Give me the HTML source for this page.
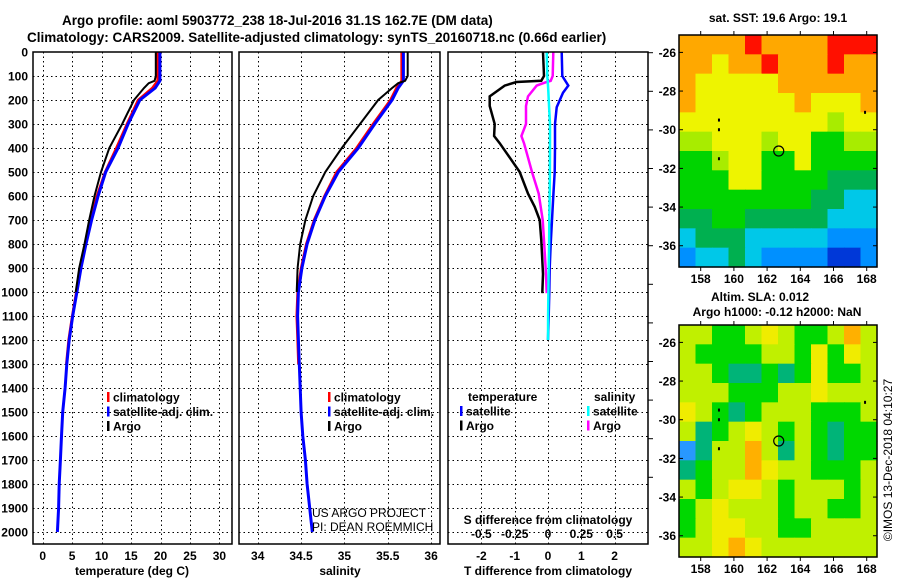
<!DOCTYPE html>
<html><head><meta charset="utf-8"><style>
html,body{margin:0;padding:0;background:#fff;}
svg{display:block;font-family:"Liberation Sans",sans-serif;}
.t{font-weight:bold;font-size:12px;}
.n{font-weight:normal;font-size:12px;}
.h{font-weight:bold;font-size:13.5px;}
</style></head><body>
<svg id="s" width="900" height="580" viewBox="0 0 900 580">
<text class="h" x="62" y="25">Argo profile: aoml 5903772_238 18-Jul-2016 31.1S 162.7E (DM data)</text>
<text class="h" x="27" y="42">Climatology: CARS2009. Satellite-adjusted climatology: synTS_20160718.nc (0.66d earlier)</text>
</svg>
<script>
// ---------- data ----------
const tDepth=[0,120,150,200,300,400,500,600,700,800,900,1000,1100,1200,1300,1400,1500,1600,1700,1800,1900,2000];
const tClim=[19.5,19.5,18.6,16.2,14.3,12.5,10.6,9.2,8.1,7.2,6.4,5.7,5.0,4.4,4.0];
const tSat=[19.9,19.9,19.1,16.5,14.5,12.8,10.7,9.4,8.3,7.35,6.5,5.8,5.1,4.5,4.1,3.8,3.4,3.2,3.0,2.8,2.7,2.5];
const argoDepth=[0,100,120,130,150,200,300,400,500,600,700,800,900,1000];
const tArgo=[19.2,19.2,19.0,18.0,17.2,15.5,13.5,11.3,9.9,8.8,7.9,7.1,6.2,5.6];
const sClim=[35.66,35.66,35.60,35.53,35.33,35.14,34.91,34.77,34.65,34.56,34.50,34.46,34.45,34.46,34.47];
const sSat=[35.68,35.68,35.62,35.55,35.35,35.16,34.93,34.78,34.66,34.57,34.51,34.47,34.46,34.47,34.48,34.49,34.50,34.52,34.55,34.57,34.60,34.63];
const sArgo=[35.73,35.73,35.70,35.62,35.55,35.39,35.18,34.97,34.78,34.64,34.55,34.49,34.46,34.45];
const dDepthArgo=[0,100,120,125,140,185,225,300,350,380,420,500,590,645,700,785,925,1005];
const dTArgo=[-0.15,-0.12,-0.2,-0.95,-1.3,-1.75,-1.75,-1.6,-1.62,-1.45,-1.25,-0.85,-0.6,-0.4,-0.25,-0.2,-0.15,-0.17];
const dSArgo=[0.04,0.035,0.02,-0.01,-0.085,-0.15,-0.165,-0.165,-0.2,-0.18,-0.16,-0.12,-0.07,-0.055,-0.04,-0.03,-0.015,-0.01];
const dDepthSat=[0,100,140,170,230,300,400,500,600,700,800,900,1000,1100,1200];
const dTSat=[0.41,0.43,0.61,0.45,0.26,0.21,0.21,0.2,0.16,0.12,0.08,0.05,0.04,0.02,0.0];
const dSSat=[-0.01,-0.005,0,0.003,0.008,0.015,0.015,0.014,0.013,0.01,0.008,0.005,0.003,0.001,0];
const sstRows=["777787777888","776778777877","766666777777","766666676667","666666666566","556665664455","445664464444","444664444333","444444443322","334433333222","233322222111","122321111001"];
const slaRows=["332234322353","322223324243","332112124223","333222334333","432123332223","312343232122","013353132122","123354332223","323443233323","234333233223","234433223333","334543333333"];
const depthTicks=[0,100,200,300,400,500,600,700,800,900,1000,1100,1200,1300,1400,1500,1600,1700,1800,1900,2000];
const tTicks=[0,5,10,15,20,25,30];
const sTicks=[34,34.5,35,35.5,36];
const sTickLabels=["34","34.5","35","35.5","36"];
const dTTicks=[-2,-1,0,1,2];
const dSTicks=[-0.5,-0.25,0,0.25,0.5];
const dSTickLabels=["-0.5","-0.25","0","0.25","0.5"];
const latTicks=[-26,-28,-30,-32,-34,-36];
const lonTicks=[158,160,162,164,166,168];
const argoPos=[162.7,-31.1];
// ---------- helpers ----------
const S=document.getElementById('s');const NS="http://www.w3.org/2000/svg";
function mk(tag,a,parent){const e=document.createElementNS(NS,tag);for(const k in a)e.setAttribute(k,a[k]);(parent||S).appendChild(e);return e;}
function txt(x,y,s,anchor,cls,name){const e=mk('text',{x:x,y:y,'text-anchor':anchor||'middle',class:cls||'t'});e.textContent=s;

return e;}
const yD=d=>52+d*0.24;
const xT=t=>42.7+t*5.89;
const xS=s=>257.7+(s-34)*86.7;
const xDT=t=>548+t*33.3;
const xDS=s=>548+s*133.2;
const px=v=>Math.round(v)+0.5;
function line(depths,vals,fx,color,w,name){const pts=vals.map((v,i)=>fx(v).toFixed(1)+','+yD(depths[i]).toFixed(1)).join(' ');
const p=mk('polyline',{points:pts,fill:'none',stroke:color,'stroke-width':w||2.5});

}
function frame(x0,x1,y0,y1,name){const r=mk('rect',{x:x0,y:y0,width:x1-x0,height:y1-y0,fill:'none',stroke:'#000','stroke-width':1.5});

}
function grid(x0,x1,xs,fx,name){const g=mk('g',{stroke:'#000','stroke-width':1,'stroke-dasharray':'1.5,3'});


depthTicks.slice(1).forEach(d=>mk('line',{x1:x0,x2:x1,y1:px(yD(d)),y2:px(yD(d))},g));
xs.forEach(v=>mk('line',{x1:px(fx(v)),x2:px(fx(v)),y1:52,y2:544},g));}
function legend(x,y,items,name){items.forEach((it,i)=>{const r=mk('rect',{x:x,y:y+i*14.5-5,width:2.5,height:10,fill:it[0]});


txt(x+6,y+i*14.5+4.5,it[1],'start','t',name+'-entry');});}
// ---------- panel 1 temperature ----------
grid(33,232,tTicks,xT,'temperature-grid');
line(tDepth,tClim,xT,'#ff0000',2.5,'temperature-climatology-line');
line(tDepth,tSat,xT,'#0000ff',3,'temperature-satellite-line');
line(argoDepth,tArgo,xT,'#000',2,'temperature-argo-line');
frame(33,232,52,544,'temperature-panel-frame');
depthTicks.forEach(d=>txt(28,yD(d)+4.5,String(d),'end','t','depth-tick-label'));
tTicks.forEach(t=>txt(xT(t),560,String(t),'middle','t','temperature-tick-label'));
txt(132,575,'temperature (deg C)','middle','t','temperature-axis-title');
legend(107,397,[['#ff0000','climatology'],['#0000ff','satellite-adj. clim.'],['#000','Argo']],'temperature-legend');
// ---------- panel 2 salinity ----------
grid(239,440,sTicks,xS,'salinity-grid');
line(tDepth,sClim,xS,'#ff0000',2.5,'salinity-climatology-line');
line(tDepth,sSat,xS,'#0000ff',3,'salinity-satellite-line');
line(argoDepth,sArgo,xS,'#000',2,'salinity-argo-line');
frame(239,440,52,544,'salinity-panel-frame');
sTicks.forEach((s,i)=>txt(xS(s),560,sTickLabels[i],'middle','t','salinity-tick-label'));
txt(340,575,'salinity','middle','t','salinity-axis-title');
legend(328,397,[['#ff0000','climatology'],['#0000ff','satellite-adj. clim.'],['#000','Argo']],'salinity-legend');
txt(312,517,'US ARGO PROJECT','start','n','credit-project');
txt(312,531,'PI: DEAN ROEMMICH','start','n','credit-pi');
// ---------- panel 3 differences ----------
const bg=mk('rect',{x:448,y:52,width:200,height:492,fill:'#fff'});


grid(448,648,dTTicks,xDT,'difference-grid');
line(dDepthArgo,dTArgo,xDT,'#000',2.5,'temperature-difference-argo-line');
line(dDepthArgo,dSArgo,xDS,'#ff00ff',2.5,'salinity-difference-argo-line');
line(dDepthSat,dTSat,xDT,'#0000ff',2.5,'temperature-difference-satellite-line');
line(dDepthSat,dSSat,xDS,'#00ffff',2.5,'salinity-difference-satellite-line');
frame(448,648,52,544,'difference-panel-frame');
for(let i=0;i<12;i++){const y=52.7+i*38.6;const l=mk('line',{x1:648,x2:653,y1:y,y2:y,stroke:'#000','stroke-width':1});

}
dTTicks.forEach(t=>txt(xDT(t),560,String(t),'middle','t','t-difference-tick-label'));
txt(548,575,'T difference from climatology','middle','t','t-difference-axis-title');
txt(548,524,'S difference from climatology','middle','t','s-difference-axis-title');
dSTicks.forEach((s,i)=>txt(xDS(s),538,dSTickLabels[i],'middle','t','s-difference-tick-label'));
txt(468,401,'temperature','start','t','difference-legend-temperature-header');
txt(594,401,'salinity','start','t','difference-legend-salinity-header');
legend(460,411,[['#0000ff','satellite'],['#000','Argo']],'temperature-difference-legend');
legend(587,411,[['#00ffff','satellite'],['#ff00ff','Argo']],'salinity-difference-legend');
// ---------- maps ----------
const sstColors=['#0038d8','#0090ff','#00c8e8','#00b050','#00d400','#a8ec00','#eef400','#ffa800','#ff1000'];
const slaColors=['#2898ff','#00b478','#00d800','#c0f000','#f0ec00','#ffb000'];
function map(y0,y1,latTop,latBot,rows,colors,name){
  const x0=679,x1=877;const lx=l=>700.7+(l-158)*16.6;const ly=a=>y0+(latTop-a)/(latTop-latBot)*(y1-y0);
  const g=mk('g',{});
  
  
  const nr=rows.length,nc=rows[0].length;const cw=(x1-x0)/nc,ch=(y1-y0)/nr;
  rows.forEach((r,i)=>{for(let j=0;j<nc;j++){mk('rect',{x:(x0+j*cw).toFixed(2),y:(y0+i*ch).toFixed(2),width:(cw+0.6).toFixed(2),height:(ch+0.6).toFixed(2),fill:colors[+r[j]]},g);}});
  [[159.1,-29.5],[159.1,-30.0],[159.1,-31.5],[167.9,-29.1]].forEach(p=>mk('rect',{x:lx(p[0])-1,y:ly(p[1])-1.5,width:2,height:3,fill:'#000'},g));
  const c=mk('circle',{cx:lx(argoPos[0]),cy:ly(argoPos[1]),r:5,fill:'none',stroke:'#000','stroke-width':1.2});
  
  
  frame(x0,x1,y0,y1,name+'-frame');
  latTicks.forEach(a=>{const y=ly(a);mk('line',{x1:x0,x2:x0+4,y1:y,y2:y,stroke:'#000'});mk('line',{x1:x1-4,x2:x1,y1:y,y2:y,stroke:'#000'});txt(676,y+4.5,String(a),'end','t',name+'-lat-label');});
  lonTicks.forEach(l=>{const x=lx(l);mk('line',{x1:x,x2:x,y1:y0-4,y2:y0,stroke:'#000'});mk('line',{x1:x,x2:x,y1:y1,y2:y1+4,stroke:'#000'});txt(x,y1+16,String(l),'middle','t',name+'-lon-label');});
}
map(35,267,-25.1,-37.1,sstRows,sstColors,'sst-map');
map(325,557,-25.1,-37.1,slaRows,slaColors,'sla-map');
txt(778,22,'sat. SST: 19.6 Argo: 19.1','middle','t','sst-map-title');
txt(760,301,'Altim. SLA: 0.012','middle','t','sla-map-title-1');
txt(777,316,'Argo h1000: -0.12 h2000: NaN','middle','t','sla-map-title-2');
const cr=txt(0,0,'©IMOS 13-Dec-2018 04:10:27','middle','n','imos-credit');
cr.setAttribute('transform','translate(892,460) rotate(-90)');
</script>
</body></html>
